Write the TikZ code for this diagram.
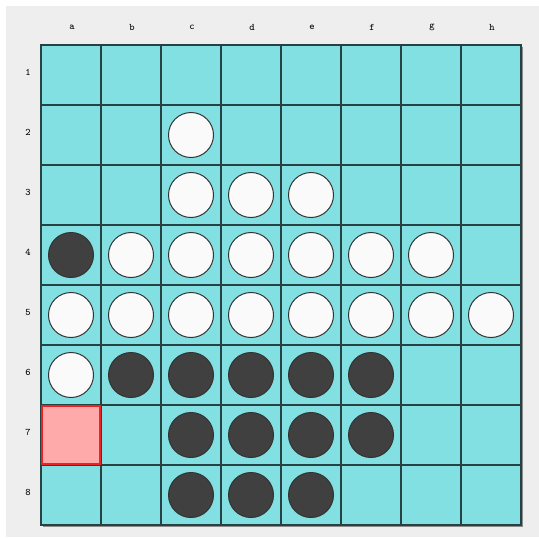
\documentclass[tikz,border=0pt]{standalone}
\usepackage{tikz}
\usetikzlibrary{positioning}
\definecolor{panelgray}{RGB}{238,238,238}
\definecolor{boardcyan}{RGB}{131,224,226}
\definecolor{gridline}{RGB}{38,66,66}
\definecolor{shadowgray}{RGB}{140,140,140}
\definecolor{darkdisc}{RGB}{64,64,64}
\definecolor{lightdisc}{RGB}{250,250,250}
\definecolor{markpink}{RGB}{255,170,170}
\definecolor{markred}{RGB}{238,34,34}

\begin{document}
\begin{tikzpicture}[x=0.75pt,y=-0.75pt,
        every node/.style={font=\fontsize{7.5}{8}\selectfont\ttfamily},
        disc/.style={circle,draw=black!80,line width=0.75pt,inner sep=0pt,minimum size=33.75pt},
        blackdisc/.style={disc,fill=darkdisc},
        whitedisc/.style={disc,fill=lightdisc},
        gline/.style={gridline,line width=1pt},
      ]
      \useasboundingbox (0,0) rectangle (539,537);
      \fill[white] (0,0) rectangle (539,537);
      \fill[panelgray] (6,6) rectangle (539,537);

      \fill[boardcyan] (41,45) rectangle (521,525);
      \fill[markpink] (41,405) rectangle (101,465);
      \foreach \i in {1,...,7} {
        \draw[gline] ({41+60*\i},45) -- ({41+60*\i},525);
        \draw[gline] (41,{45+60*\i}) -- (521,{45+60*\i});
      }
      \draw[shadowgray,line width=0.8pt] (522.5,46.5) -- (522.5,526.5) -- (42.5,526.5);
      \draw[gline] (41,45) rectangle (521,525);
      \draw[markred,line width=1.5pt] (42,406) rectangle (100,464);

      \foreach \ci/\cl in {0/a,1/b,2/c,3/d,4/e,5/f,6/g,7/h} {
        \node (col-\cl) at ({72+60*\ci},27) {\cl};
      }
      \foreach \r in {1,...,8} {
        \node (row-\r) at (28,{72+60*(\r-1)}) {\r};
      }

      \foreach \ci/\r/\lab in {2/2/c2, 2/3/c3,3/3/d3,4/3/e3,
          1/4/b4,2/4/c4,3/4/d4,4/4/e4,5/4/f4,6/4/g4,
          0/5/a5,1/5/b5,2/5/c5,3/5/d5,4/5/e5,5/5/f5,6/5/g5,7/5/h5,
          0/6/a6} {
        \node[whitedisc] (w-\lab) at ({71+60*\ci},{75+60*(\r-1)}) {};
      }
      \foreach \ci/\r/\lab in {0/4/a4,
          1/6/b6,2/6/c6,3/6/d6,4/6/e6,5/6/f6,
          2/7/c7,3/7/d7,4/7/e7,5/7/f7,
          2/8/c8,3/8/d8,4/8/e8} {
        \node[blackdisc] (b-\lab) at ({71+60*\ci},{75+60*(\r-1)}) {};
      }
    \end{tikzpicture}
\end{document}
